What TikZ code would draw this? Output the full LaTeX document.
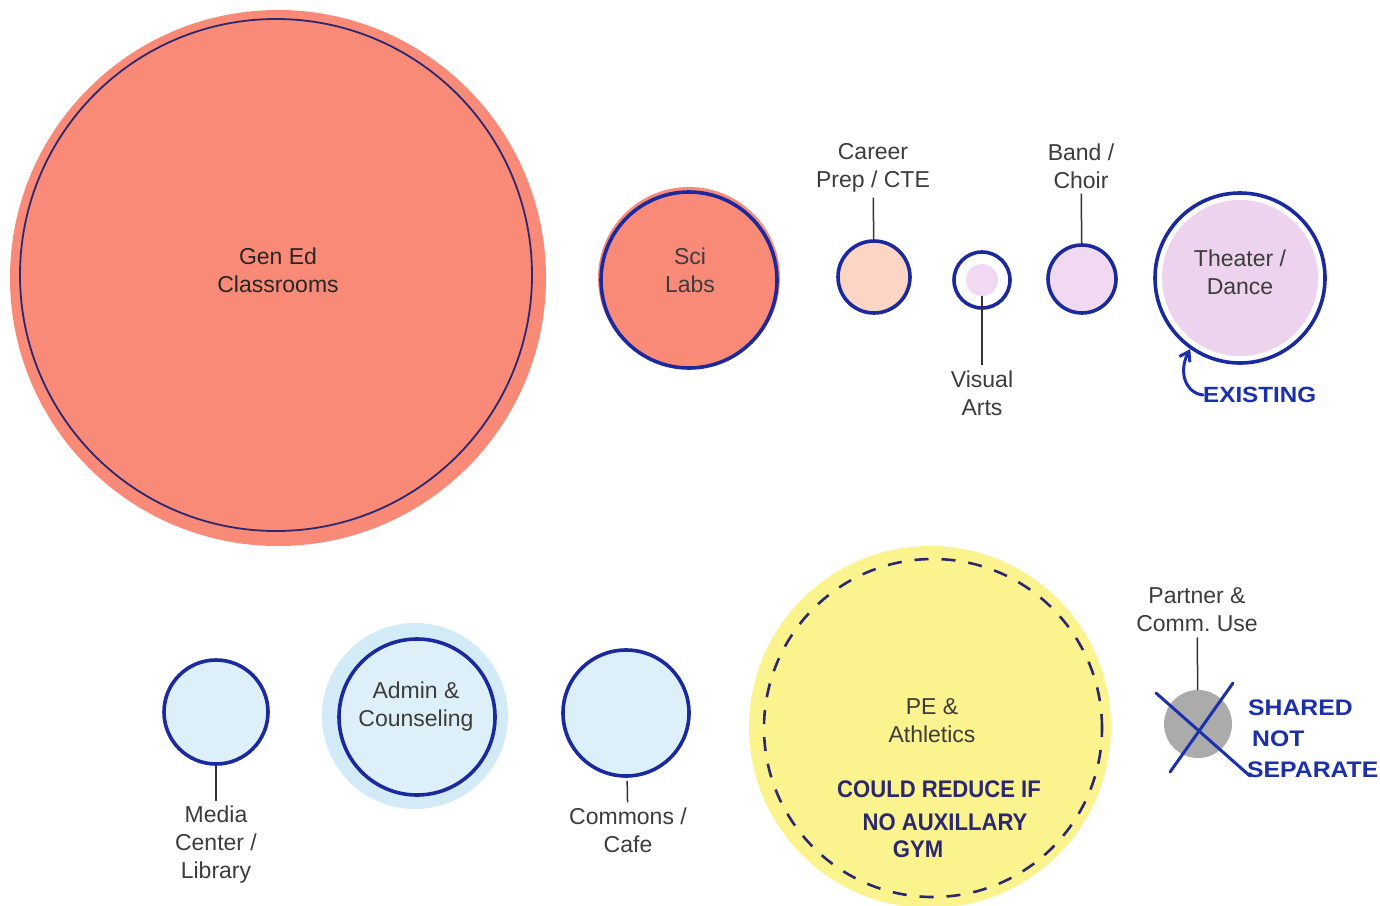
\documentclass[tikz,border=0pt]{standalone}
\usepackage{fontspec}
\setmainfont{Liberation Sans}
\newfontfamily\handW[FakeStretch=1.1]{Liberation Sans}
\newfontfamily\handN[FakeStretch=0.92]{Liberation Sans}
\usetikzlibrary{arrows.meta}
\definecolor{salmon}{HTML}{FA8A78}
\definecolor{peach}{HTML}{FDD5C5}
\definecolor{lpink}{HTML}{F1D9F1}
\definecolor{tpink}{HTML}{EDD3EE}
\definecolor{lblue}{HTML}{DDF0FA}
\definecolor{ablue}{HTML}{D3EAF7}
\definecolor{pyellow}{HTML}{FBF38E}
\definecolor{pgrey}{HTML}{ABABAB}
\definecolor{navy}{HTML}{2B2870}
\definecolor{ink}{HTML}{1A2A9E}
\definecolor{handink}{HTML}{1B30AA}
\definecolor{labelgrey}{HTML}{3C3C3C}
\begin{document}
\begin{tikzpicture}[x=1pt,y=-1pt,
  disc/.style={circle, inner sep=0pt, draw=none},
  ring/.style={circle, inner sep=0pt, draw=ink, line width=3.6pt},
  lbl/.style={align=center, inner sep=0pt, text=labelgrey,
              font=\fontsize{23}{28}\selectfont},
  conn/.style={draw=black!80, line width=1.5pt, shorten <=5pt, shorten >=0pt},
  handtxt/.style={inner sep=0pt, text=handink, font=\handW\bfseries\fontsize{22.5}{27}\selectfont},
  handpe/.style={inner sep=0pt, text=navy, font=\handN\bfseries\fontsize{24}{28}\selectfont},
  handline/.style={draw=handink, line width=3pt, line cap=round}]
\useasboundingbox (0,0) rectangle (1380,905);
\fill[white] (0,0) rectangle (1380,905);

% Gen Ed
\node[disc, fill=salmon, minimum size=536pt] (genfill) at (278,278) {};
\node[circle, inner sep=0pt, draw=navy, line width=1.8pt, minimum size=512pt] (gened) at (276,275) {};
\node[lbl, text=black!85] (genedlbl) at (278,270) {Gen Ed\\Classrooms};

% Sci Labs
\node[disc, fill=salmon, minimum size=182pt] (scifill) at (689,278) {};
\node[ring, minimum size=176pt] (sci) at (689,280) {};
\node[lbl] (scilbl) at (690,270) {Sci\\Labs};

% Career Prep
\node[ring, fill=peach, minimum size=72pt] (career) at (874,277) {};
\node[lbl] (careerlbl) at (873,168) {Career\\Prep / CTE};
\draw[conn] (careerlbl) -- (career);

% Visual Arts
\node[ring, minimum size=56pt] (visual) at (982,280) {};
\node[disc, fill=lpink, minimum size=32pt] (vafill) at (982,280) {};
\node[lbl] (visuallbl) at (982,393) {Visual\\Arts};
\draw[conn, shorten <=0pt, shorten >=5pt] (vafill) -- (visuallbl);

% Band / Choir
\node[ring, fill=lpink, minimum size=68pt] (band) at (1082,279) {};
\node[lbl] (bandlbl) at (1081,166) {Band /\\Choir};
\draw[conn] (bandlbl) -- (band);

% Theater / Dance
\node[disc, fill=tpink, minimum size=156pt] (thfill) at (1240,278) {};
\node[ring, minimum size=170pt] (theater) at (1240,278) {};
\node[lbl] (theaterlbl) at (1240,272) {Theater /\\Dance};
\node[handtxt, font=\handW\bfseries\fontsize{22}{26}\selectfont, anchor=west] (existlbl) at (1203,395) {EXISTING};
\draw[handline, -{Straight Barb[length=9pt, width=12pt]}] (existlbl.west) .. controls +(-18,-2) and +(-12,22) .. (theater.235);

% Media Center
\node[ring, fill=lblue, minimum size=104pt] (media) at (216,712) {};
\node[lbl] (medialbl) at (216,845) {Media\\Center /\\Library};
\draw[conn, shorten <=0pt, shorten >=5pt] (media) -- (medialbl);

% Admin & Counseling
\node[disc, fill=ablue, minimum size=186pt] (adminfill) at (415,716) {};
\node[ring, fill=lblue, minimum size=156pt] (admin) at (417,717) {};
\node[lbl] (adminlbl) at (416,707) {Admin \&\\Counseling};

% Commons
\node[ring, fill=lblue, minimum size=126pt] (commons) at (626,713) {};
\node[lbl] (commonslbl) at (628,830) {Commons /\\Cafe};
\draw[conn, shorten <=3pt, shorten >=5pt] (commons) -- (commonslbl);

% PE & Athletics
\node[disc, fill=pyellow, minimum size=362pt] (pefill) at (930,727) {};
\node[circle, inner sep=0pt, draw=navy, line width=2.6pt, dash pattern=on 14pt off 13pt, minimum size=338pt] (pe) at (933,728) {};
\node[lbl] (pelbl) at (932,721) {PE \&\\Athletics};
\node[handpe] (pe1) at (939,789) {COULD REDUCE IF};
\node[handpe] (pe2) at (945,822) {NO AUXILLARY};
\node[handpe] (pe3) at (918,849) {GYM};

% Partner & Comm. Use
\node[disc, fill=pgrey, minimum size=68pt] (partner) at (1198,724) {};
\node[lbl] (partnerlbl) at (1197,610) {Partner \&\\Comm.\ Use};
\draw[conn] (partnerlbl) -- (partner);
\coordinate (xa1) at (1156,693);
\coordinate (xa2) at (1250,776);
\coordinate (xb1) at (1233,683);
\coordinate (xb2) at (1170,772);
\draw[handline] (xa1) -- (xa2);
\draw[handline] (xb1) -- (xb2);
\node[handtxt, anchor=west] (shared) at (1248,708) {SHARED};
\node[handtxt, anchor=west] (notlbl) at (1252,739) {NOT};
\node[handtxt, anchor=west] (separate) at (1247,770) {SEPARATE};
\end{tikzpicture}
\end{document}
